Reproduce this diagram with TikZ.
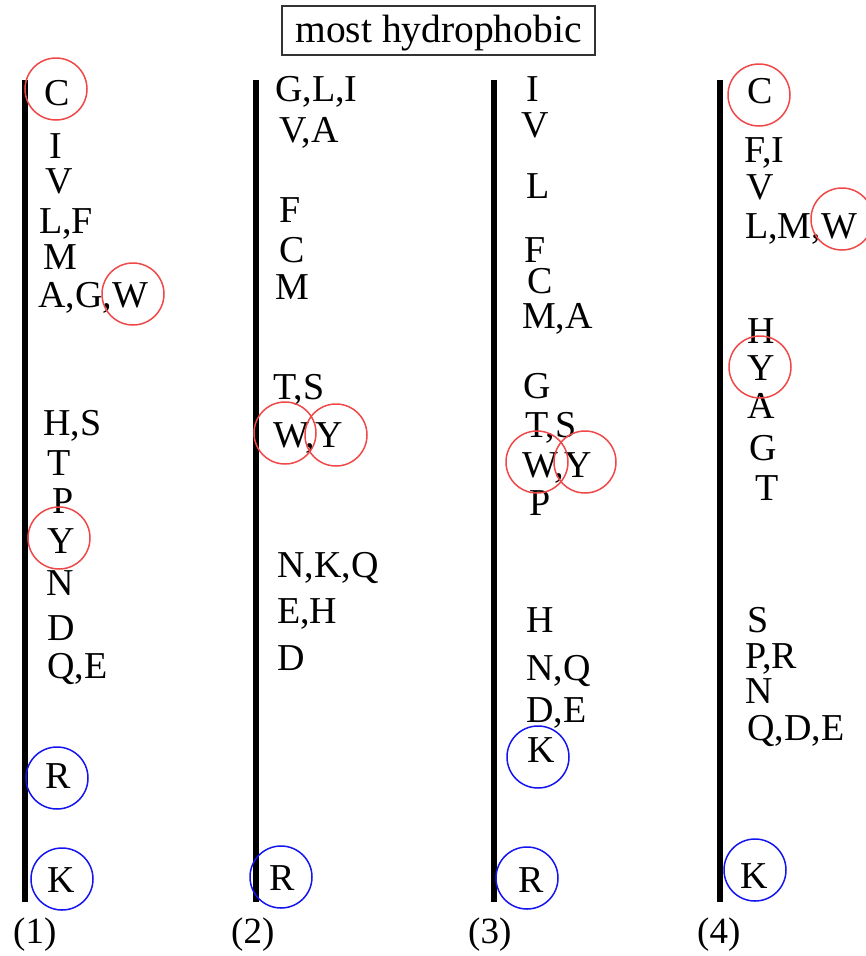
\documentclass[tikz,border=0pt]{standalone}
\usepackage{fontspec}
\setmainfont{Liberation Serif}
\definecolor{ringred}{RGB}{240,72,72}
\definecolor{ringblue}{RGB}{20,20,240}
\tikzset{
  aa/.style={anchor=base west, inner sep=0pt, font=\fontsize{38}{38}\selectfont},
  scale lbl/.style={anchor=base west, inner sep=0pt, font=\fontsize{37}{37}\selectfont},
  axis/.style={line width=5.5pt},
  redring/.style={circle, draw=ringred, line width=1.5pt, minimum size=62pt, inner sep=0pt},
  bluering/.style={circle, draw=ringblue, line width=1.5pt, minimum size=62pt, inner sep=0pt},
}
\begin{document}
\begin{tikzpicture}[x=1pt, y=-1pt]
\useasboundingbox (0,0) rectangle (865,956);

% heading box
\node[draw=black!80, line width=1.3pt, anchor=base, inner sep=0pt,
      minimum width=313pt, text height=36pt, text depth=13pt,
      font=\fontsize{39.5}{39.5}\selectfont] (title) at (438.5,42) {most hydrophobic};

% scale axes
\foreach \i/\x in {1/25, 2/256, 3/494, 4/720} {
  \coordinate (top\i) at (\x,80);
  \coordinate (bot\i) at (\x,902);
  \draw[axis] (top\i) -- (bot\i);
}

% scale (1)
\node[aa] (a1) at (44,105) {C};
\node[aa] (a2) at (49,158) {I};
\node[aa] (a3) at (45,193) {V};
\node[aa] (a4) at (39,233) {L,F};
\node[aa] (a5) at (43,269) {M};
\node[aa] (a6) at (38,307) {A,G,W};
\node[aa] (a7) at (43,435) {H,S};
\node[aa] (a8) at (47,475) {T};
\node[aa] (a9) at (52,513) {P};
\node[aa] (a10) at (47,553) {Y};
\node[aa] (a11) at (46,595) {N};
\node[aa] (a12) at (47,640) {D};
\node[aa] (a13) at (47,678) {Q,E};
\node[aa] (a14) at (45,788) {R};
\node[aa] (a15) at (47,892) {K};
\node[scale lbl] (n1) at (13,943) {(1)};
\node[redring] (ra1) at (56,89) {};
\node[redring] (ra2) at (133,294) {};
\node[redring] (ra3) at (59,538) {};
\node[bluering] (ba1) at (57,778) {};
\node[bluering] (ba2) at (62,879) {};

% scale (2)
\node[aa] (b1) at (275,101) {G,L,I};
\node[aa] (b2) at (279,142) {V,A};
\node[aa] (b3) at (279,222) {F};
\node[aa] (b4) at (279,262) {C};
\node[aa] (b5) at (275,299) {M};
\node[aa] (b6) at (273,399) {T,S};
\node[aa] (b7) at (273,447) {W,Y};
\node[aa] (b8) at (277,577) {N,K,Q};
\node[aa] (b9) at (277,623) {E,H};
\node[aa] (b10) at (277,670) {D};
\node[aa] (b11) at (269,890) {R};
\node[scale lbl] (n2) at (231,943) {(2)};
\node[redring] (rb1) at (285,433) {};
\node[redring] (rb2) at (336,435) {};
\node[bluering] (bb1) at (281,877) {};

% scale (3)
\node[aa] (c1) at (526,101) {I};
\node[aa] (c2) at (521,137) {V};
\node[aa] (c3) at (526,198) {L};
\node[aa] (c4) at (524,262) {F};
\node[aa] (c5) at (527,293) {C};
\node[aa] (c6) at (522,328) {M,A};
\node[aa] (c7) at (523,398) {G};
\node[aa] (c8) at (525,437) {T,S};
\node[aa] (c9) at (522,477) {W,Y};
\node[aa] (c10) at (529,515) {P};
\node[aa] (c11) at (526,632) {H};
\node[aa] (c12) at (526,680) {N,Q};
\node[aa] (c13) at (526,722) {D,E};
\node[aa] (c14) at (527,762) {K};
\node[aa] (c15) at (518,892) {R};
\node[scale lbl] (n3) at (468,943) {(3)};
\node[redring] (rc1) at (537,462) {};
\node[redring] (rc2) at (585,462) {};
\node[bluering] (bc1) at (538,757) {};
\node[bluering] (bc2) at (527,878) {};

% scale (4)
\node[aa] (d1) at (747,103) {C};
\node[aa] (d2) at (744,162) {F,I};
\node[aa] (d3) at (746,199) {V};
\node[aa] (d4) at (745,238) {L,M,W};
\node[aa] (d5) at (747,343) {H};
\node[aa] (d6) at (747,380) {Y};
\node[aa] (d7) at (747,418) {A};
\node[aa] (d8) at (749,460) {G};
\node[aa] (d9) at (755,500) {T};
\node[aa] (d10) at (747,632) {S};
\node[aa] (d11) at (745,668) {P,R};
\node[aa] (d12) at (745,703) {N};
\node[aa] (d13) at (747,740) {Q,D,E};
\node[aa] (d14) at (740,888) {K};
\node[scale lbl] (n4) at (697,943) {(4)};
\node[redring] (rd1) at (759,95) {};
\node[redring] (rd2) at (842,219) {};
\node[redring] (rd3) at (760,367) {};
\node[bluering] (bd1) at (755,870) {};
\end{tikzpicture}
\end{document}
